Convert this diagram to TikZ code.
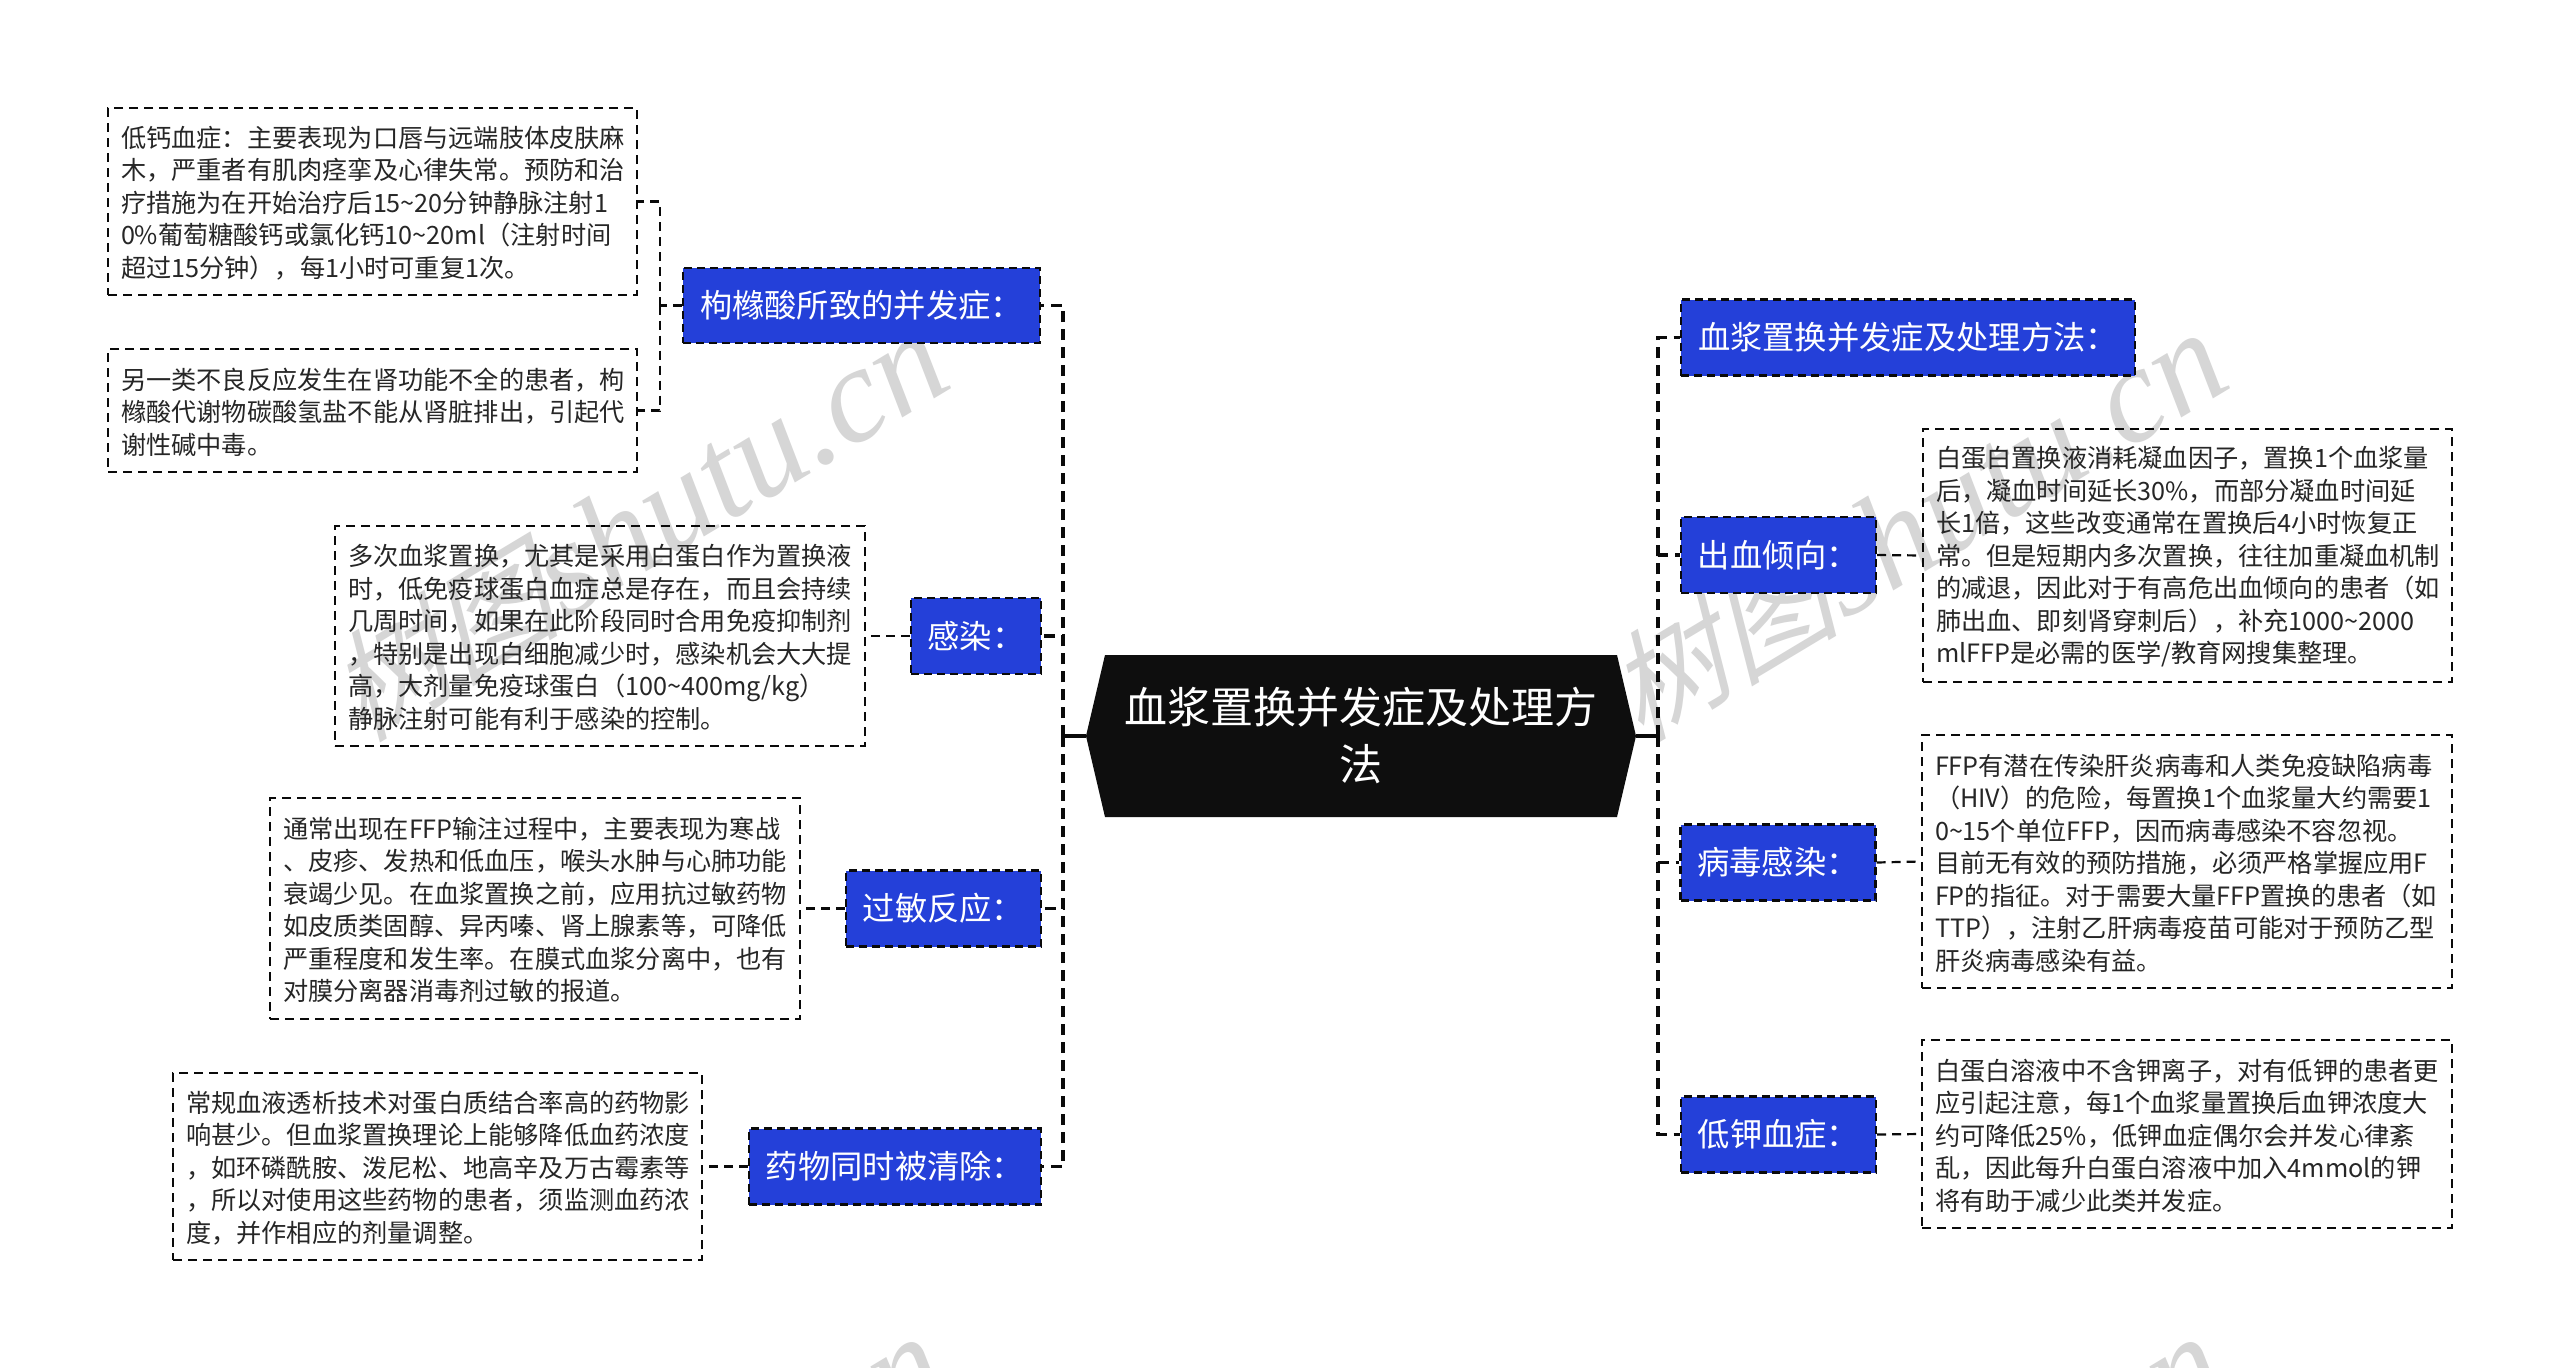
\documentclass[tikz,border=0pt]{standalone}
\usepackage{fontspec}
\setmainfont{Noto Sans CJK SC}
\newfontfamily\wmlatin{Liberation Serif}
\newfontfamily\wmcjk[FakeSlant=0.3]{Noto Sans CJK SC}
\usetikzlibrary{shapes.symbols}
\definecolor{nodeblue}{HTML}{2440D9}
\definecolor{rootblack}{HTML}{0E0E0E}
\definecolor{wmgray}{HTML}{D6D6D6}
\definecolor{linecol}{HTML}{0A0A0A}
\newcommand{\tld}{\char"7E\relax}
\tikzset{
  x=1pt,y=-1pt,
  txtbox/.style n args={2}{draw=linecol,line width=2.2pt,dash pattern=on 9pt off 6pt,
    minimum width=#1,minimum height=#2,text width=#1-26pt,inner sep=0pt,align=left,
    font=\fontsize{25.2pt}{32.5pt}\selectfont,text=black!85,execute at end node={\par\vspace{-3pt}}},
  bluenode/.style n args={2}{draw=linecol,fill=nodeblue,line width=2.2pt,dash pattern=on 8pt off 5pt,
    minimum width=#1,minimum height=#2,inner sep=0pt,text=white,align=left,
    font=\fontsize{32.3pt}{40pt}\selectfont},
  rootnode/.style={signal,signal to=west and east,signal pointer angle=153.6,
    fill=rootblack,draw=none,minimum width=550pt,minimum height=162pt,inner sep=0pt,text=white,
    text width=490pt,align=center,font=\fontsize{43pt}{57pt}\selectfont},
  spine/.style={draw=linecol,line width=3.2pt,dash pattern=on 11pt off 7pt},
  twig/.style={draw=linecol,line width=2.2pt,dash pattern=on 9pt off 6pt},
  rootstub/.style={draw=linecol,line width=3.2pt},
  wmark/.style={text=wmgray,rotate=31,inner sep=0pt}
}
\newcommand{\wm}{{\wmcjk\fontsize{118pt}{118pt}\selectfont 树图}\,{\wmlatin\itshape\fontsize{136pt}{136pt}\selectfont shutu.cn}}
\begin{document}
\begin{tikzpicture}
\useasboundingbox[fill=white] (0,0) rectangle (2560,1368);

% watermarks
\node[wmark] (wa) at (636,526) {\wm};
\node[wmark] (wb) at (1915,526) {\wm};
\node[wmark] (wc) at (634,1530) {\wm};
\node[wmark] (wd) at (1913,1530) {\wm};

% root
\node[rootnode] (root) at (1361,736) {血浆置换并发症及处理方\\法};

% spine coordinates
\coordinate (lsp) at (1063,736);
\coordinate (rsp) at (1658,736);

% left branches
\node[bluenode={357pt}{75pt}] (l1) at (861.5,305.5) {枸橼酸所致的并发症：};
\node[bluenode={130pt}{76pt}] (l2) at (976,636) {感染：};
\node[bluenode={195pt}{76pt}] (l3) at (943.5,908.5) {过敏反应：};
\node[bluenode={292pt}{76pt}] (l4) at (895,1166.5) {药物同时被清除：};

% right branches
\node[bluenode={454pt}{76pt}] (r1) at (1908,337.5) {血浆置换并发症及处理方法：};
\node[bluenode={195pt}{76pt}] (r2) at (1778.5,555) {出血倾向：};
\node[bluenode={195pt}{76pt}] (r3) at (1778,862.5) {病毒感染：};
\node[bluenode={195pt}{76pt}] (r4) at (1778.5,1134.5) {低钾血症：};

% text boxes
\node[txtbox={529pt}{187pt}] (t1) at (372.5,201.5) {低钙血症：主要表现为口唇与远端肢体皮肤麻\\木，严重者有肌肉痉挛及心律失常。预防和治\\疗措施为在开始治疗后15\tld20分钟静脉注射1\\0\%葡萄糖酸钙或氯化钙10\tld20ml（注射时间\\超过15分钟），每1小时可重复1次。};
\node[txtbox={529pt}{123pt}] (t2) at (372.5,410.5) {另一类不良反应发生在肾功能不全的患者，枸\\橼酸代谢物碳酸氢盐不能从肾脏排出，引起代\\谢性碱中毒。};
\node[txtbox={530pt}{220pt}] (t3) at (600,636) {多次血浆置换，尤其是采用白蛋白作为置换液\\时，低免疫球蛋白血症总是存在，而且会持续\\几周时间，如果在此阶段同时合用免疫抑制剂\\，特别是出现白细胞减少时，感染机会大大提\\高，大剂量免疫球蛋白（100\tld400mg/kg）\\静脉注射可能有利于感染的控制。};
\node[txtbox={530pt}{221pt}] (t4) at (535,908.5) {通常出现在FFP输注过程中，主要表现为寒战\\、皮疹、发热和低血压，喉头水肿与心肺功能\\衰竭少见。在血浆置换之前，应用抗过敏药物\\如皮质类固醇、异丙嗪、肾上腺素等，可降低\\严重程度和发生率。在膜式血浆分离中，也有\\对膜分离器消毒剂过敏的报道。};
\node[txtbox={529pt}{187pt}] (t5) at (437.5,1166.5) {常规血液透析技术对蛋白质结合率高的药物影\\响甚少。但血浆置换理论上能够降低血药浓度\\，如环磷酰胺、泼尼松、地高辛及万古霉素等\\，所以对使用这些药物的患者，须监测血药浓\\度，并作相应的剂量调整。};
\node[txtbox={529pt}{253pt}] (t6) at (2187.5,555.5) {白蛋白置换液消耗凝血因子，置换1个血浆量\\后，凝血时间延长30\%，而部分凝血时间延\\长1倍，这些改变通常在置换后4小时恢复正\\常。但是短期内多次置换，往往加重凝血机制\\的减退，因此对于有高危出血倾向的患者（如\\肺出血、即刻肾穿刺后），补充1000\tld2000\\mlFFP是必需的医学/教育网搜集整理。};
\node[txtbox={530pt}{253pt}] (t7) at (2187,861.5) {FFP有潜在传染肝炎病毒和人类免疫缺陷病毒\\（HIV）的危险，每置换1个血浆量大约需要1\\0\tld15个单位FFP，因而病毒感染不容忽视。\\目前无有效的预防措施，必须严格掌握应用F\\FP的指征。对于需要大量FFP置换的患者（如\\TTP），注射乙肝病毒疫苗可能对于预防乙型\\肝炎病毒感染有益。};
\node[txtbox={530pt}{188pt}] (t8) at (2187,1134) {白蛋白溶液中不含钾离子，对有低钾的患者更\\应引起注意，每1个血浆量置换后血钾浓度大\\约可降低25\%，低钾血症偶尔会并发心律紊\\乱，因此每升白蛋白溶液中加入4mmol的钾\\将有助于减少此类并发症。};

% root stubs
\draw[rootstub] (root.west) -- (lsp);
\draw[rootstub] (root.east) -- (rsp);

% main connectors
\foreach \n in {l1,l2,l3,l4} \draw[spine] (lsp) |- (\n.east);
\foreach \n in {r1,r2,r3,r4} \draw[spine] (rsp) |- (\n.west);

% twigs
\coordinate (lb) at (660,305.5);
\draw[twig] (l1.west) -- (lb);
\draw[twig] (lb) |- (t1.east);
\draw[twig] (lb) |- (t2.east);
\draw[twig] (l2.west) -- (t3.east);
\draw[twig] (l3.west) -- (t4.east);
\draw[twig] (l4.west) -- (t5.east);
\draw[twig] (r2.east) -- (t6.west);
\draw[twig] (r3.east) -- (t7.west);
\draw[twig] (r4.east) -- (t8.west);
\end{tikzpicture}
\end{document}
